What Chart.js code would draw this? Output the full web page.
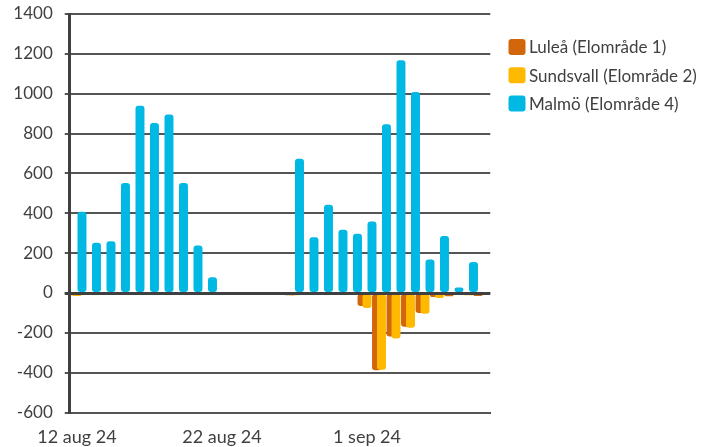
<!DOCTYPE html>
<html>
<head>
<meta charset="utf-8">
<script src="https://cdn.jsdelivr.net/npm/chart.js@4/dist/chart.umd.min.js"></script>
<style>
  html, body { margin: 0; padding: 0; background: #ffffff; }
  #wrap { width: 710px; height: 447px; }
</style>
</head>
<body>
<div id="wrap"><canvas id="chart" width="710" height="447"></canvas></div>
<script>
// Daily values per price area, 12 aug 24 – 9 sep 24 (null = no data)
const dates = [
  '12 aug 24', '13 aug 24', '14 aug 24', '15 aug 24', '16 aug 24', '17 aug 24', '18 aug 24',
  '19 aug 24', '20 aug 24', '21 aug 24', '22 aug 24', '23 aug 24', '24 aug 24', '25 aug 24',
  '26 aug 24', '27 aug 24', '28 aug 24', '29 aug 24', '30 aug 24', '31 aug 24', '1 sep 24',
  '2 sep 24', '3 sep 24', '4 sep 24', '5 sep 24', '6 sep 24', '7 sep 24', '8 sep 24', '9 sep 24'
];

const lulea = [
  -12, 0, 0, 0, 0, 0, 0, 0, 0, 0,
  null, null, null, null, null,
  -12, 0, 0, 0, 0, -66, -388, -218, -170, -100, -20, -16, -8, -15
];

const sundsvall = [
  -15, 0, 0, 0, 0, 0, 0, 0, 0, 0,
  null, null, null, null, null,
  -12, 0, 0, 0, 0, -75, -385, -228, -175, -105, -25, 0, -12, 0
];

const malmo = [
  407, 252, 260, 552, 940, 853, 895, 552, 238, 79,
  null, null, null, null, null,
  674, 280, 443, 317, 297, 358, 847, 1168, 1009, 168, 286, 27, 155, null
];

const seriesNames = ['Luleå (Elområde 1)', 'Sundsvall (Elområde 2)', 'Malmö (Elområde 4)'];
const seriesColors = ['#D2660B', '#FFB901', '#00B8E4'];

const yTicks = { min: -600, max: 1400, step: 200 };
const labelEvery = 10;

const textColor = '#404040';
const gridColor = '#555555';
const FONT = 'Lato, "Open Sans", sans-serif';

// Draw bars in series order (first series at the back), then the zero axis on top
const layeredBars = {
  id: 'layeredBars',
  beforeDatasetsDraw(chart) {
    const { ctx, chartArea: a } = chart;
    ctx.save();
    ctx.beginPath();
    ctx.rect(a.left, a.top, a.right - a.left, a.bottom - a.top);
    ctx.clip();
    chart.getSortedVisibleDatasetMetas().forEach(m => m.controller.draw());
    ctx.restore();

    const y0 = Math.round(chart.scales.y.getPixelForValue(0)) + 0.5;
    ctx.save();
    ctx.strokeStyle = '#404040';
    ctx.lineWidth = 3;
    ctx.beginPath();
    ctx.moveTo(a.left - 5, y0);
    ctx.lineTo(a.right, y0);
    ctx.stroke();
    ctx.restore();
    return false;
  }
};

// Legend column to the right of the plot
const sideLegend = {
  id: 'sideLegend',
  afterDraw(chart) {
    const { ctx } = chart;
    const x = 508.5, y0 = 47, gap = 28.2;
    ctx.save();
    ctx.font = '17px ' + FONT;
    ctx.textBaseline = 'middle';
    ctx.textAlign = 'left';
    chart.data.datasets.forEach((ds, k) => {
      const y = y0 + k * gap;
      ctx.fillStyle = ds.backgroundColor;
      ctx.beginPath();
      ctx.roundRect(x, y - 8, 17, 16, 3);
      ctx.fill();
      ctx.fillStyle = textColor;
      ctx.fillText(ds.label, 529, y + 1);
    });
    ctx.restore();
  }
};

const barStyle = {
  categoryPercentage: 1.03,
  barPercentage: 1.8,
  borderRadius: 3,
  borderSkipped: false,
  borderWidth: 0
};

new Chart(document.getElementById('chart'), {
  type: 'bar',
  data: {
    labels: dates,
    datasets: [
      Object.assign({ label: seriesNames[0], data: lulea, backgroundColor: seriesColors[0] }, barStyle),
      Object.assign({ label: seriesNames[1], data: sundsvall, backgroundColor: seriesColors[1] }, barStyle),
      Object.assign({ label: seriesNames[2], data: malmo, backgroundColor: seriesColors[2] }, barStyle)
    ]
  },
  options: {
    responsive: false,
    animation: false,
    devicePixelRatio: 1,
    layout: { padding: { top: 14, right: 219.75, left: 0, bottom: 0 } },
    plugins: {
      legend: { display: false },
      tooltip: { enabled: false }
    },
    scales: {
      x: {
        offset: true,
        grid: { display: false },
        border: { display: true, color: gridColor, width: 2 },
        ticks: {
          autoSkip: false,
          maxRotation: 0,
          minRotation: 0,
          padding: 6,
          color: textColor,
          font: { family: FONT, size: 18 },
          callback(value, index) {
            return index % labelEvery === 0 ? dates[index] : '';
          }
        },
        afterFit(scale) {
          scale.height = 34.5;
          scale.paddingLeft = 0;
          scale.paddingRight = 0;
        }
      },
      y: {
        min: yTicks.min,
        max: yTicks.max,
        ticks: {
          stepSize: yTicks.step,
          padding: 12,
          color: textColor,
          font: { family: FONT, size: 17 },
          callback(value) { return String(value); }
        },
        grid: {
          color: gridColor,
          lineWidth: 2,
          drawTicks: true,
          tickLength: 5
        },
        border: { display: true, color: '#404040', width: 3 },
        afterFit(scale) {
          scale.width = 69.75;
          scale.paddingTop = 0;
          scale.paddingBottom = 0;
        }
      }
    }
  },
  plugins: [layeredBars, sideLegend]
});
</script>
</body>
</html>
